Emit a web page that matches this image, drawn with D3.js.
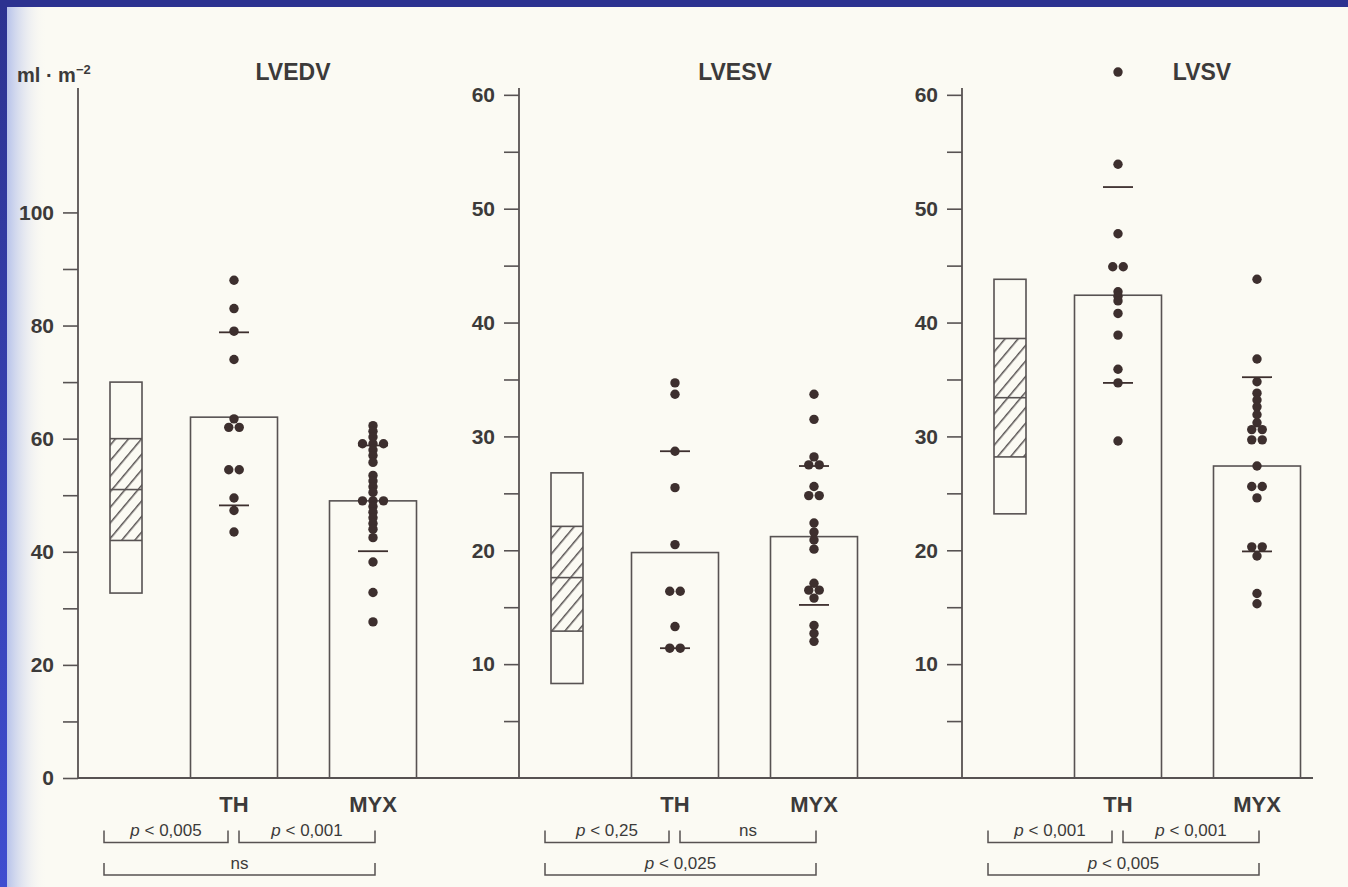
<!DOCTYPE html>
<html>
<head>
<meta charset="utf-8">
<script src="https://cdn.jsdelivr.net/npm/d3@7"></script>
<style>
  html, body { margin: 0; padding: 0; background: #fbfaf3; overflow: hidden; }
  svg { display: block; font-family: "Liberation Sans", Arial, sans-serif; }
</style>
</head>
<body>
<script>
// ---- data (ml · m^-2) ----
const panels = ["LVEDV", "LVESV", "LVSV"];
const groups = ["N", "TH", "MYX"];
const axisMax = [122, 60.6, 60.6];
const labelTicks = [[0, 20, 40, 60, 80, 100], [10, 20, 30, 40, 50, 60], [10, 20, 30, 40, 50, 60]];
const minorStep = [10, 5, 5];
const minorStart = [0, 5, 5];
const minorEnd = [100, 60, 60];

// normal range box: min, hatched low, median, hatched high, max
const normalRange = [
  [32.7, 42.0, 51.0, 60.0, 70.0],
  [8.3, 12.9, 17.6, 22.1, 26.8],
  [23.2, 28.2, 33.4, 38.6, 43.8]
];
const thMean = [63.8, 19.8, 42.4];
const myxMean = [49.0, 21.2, 27.4];
const thSD = [[48.2, 78.8], [11.4, 28.7], [34.7, 51.9]];
const myxSD = [[40.1, 58.8], [15.2, 27.4], [19.9, 35.2]];

const thValues = [
  [88, 83, 79, 74, 63.5, 62, 62, 54.5, 54.5, 49.5, 47.3, 43.5],
  [34.7, 33.7, 28.7, 25.5, 20.5, 16.4, 16.4, 13.3, 11.4, 11.4],
  [62, 53.9, 47.8, 44.9, 44.9, 42.7, 42.3, 41.9, 40.8, 38.9, 35.9, 34.7, 29.6]
];
const myxValues = [
  [62.3, 61.3, 60.3, 59.1, 59.1, 59.1, 58, 57, 55.8, 53.5, 52.5, 51.5, 50.5,
   49, 49, 49, 48, 47, 46, 45, 44, 42.5, 38.2, 32.8, 27.6],
  [33.7, 31.5, 28.2, 27.5, 27.5, 25.6, 24.8, 24.8, 22.4, 21.6, 20.9, 20.1,
   17.1, 16.5, 16.5, 15.8, 13.4, 12.7, 12.0],
  [43.8, 36.8, 34.8, 33.8, 33.2, 32.6, 31.9, 31.2, 30.6, 30.6, 29.7, 29.7,
   27.4, 25.6, 25.6, 24.6, 20.3, 20.3, 19.5, 16.2, 15.3]
];
const pLabels = [
  ["p < 0,005", "p < 0,001", "ns"],
  ["p < 0,25", "ns", "p < 0,025"],
  ["p < 0,001", "p < 0,001", "p < 0,005"]
];

// ---- layout ----
const W = 1348, H = 887;
const panelX = [78, 519, 962];
const titleDx = [215, 216, 240];
const baseY = 778, topY = 88;
const lineColor = "#575252";
const textColor = "#3c3a3a";
const dotColor = "#3d2f2e";
const dotR = 4.7;

const svg = d3.select("body").append("svg")
  .attr("width", W)
  .attr("height", H);

const defs = svg.append("defs");
const shade = defs.append("linearGradient").attr("id", "shade");
shade.append("stop").attr("offset", 0).attr("stop-color", "#b4c0ea").attr("stop-opacity", 0.95);
shade.append("stop").attr("offset", 1).attr("stop-color", "#fbfaf3").attr("stop-opacity", 0);
const edge = defs.append("linearGradient").attr("id", "edge")
  .attr("x1", 0).attr("y1", 0).attr("x2", 0).attr("y2", 1);
edge.append("stop").attr("offset", 0).attr("stop-color", "#2c3290");
edge.append("stop").attr("offset", 1).attr("stop-color", "#3f4dd0");

const hatch = defs.append("pattern")
  .attr("id", "hatch")
  .attr("patternUnits", "userSpaceOnUse")
  .attr("width", 10).attr("height", 10)
  .attr("patternTransform", "rotate(40)");
hatch.append("line")
  .attr("x1", 0).attr("y1", 0).attr("x2", 0).attr("y2", 10)
  .attr("stroke", lineColor).attr("stroke-width", 3);

// paper + scan edges
svg.append("rect").attr("width", W).attr("height", H).attr("fill", "#fbfaf3");
svg.append("rect").attr("x", 7).attr("y", 0).attr("width", 40).attr("height", H).attr("fill", "url(#shade)");
svg.append("rect").attr("x", 0).attr("y", 0).attr("width", 7).attr("height", H).attr("fill", "url(#edge)");
svg.append("rect").attr("x", 0).attr("y", 0).attr("width", W).attr("height", 7).attr("fill", "#2c3290");

// unit label
const unit = svg.append("text")
  .attr("x", 17).attr("y", 82)
  .attr("fill", textColor)
  .attr("font-size", 20)
  .attr("font-weight", "bold");
unit.append("tspan").text("ml · m");
unit.append("tspan").attr("dy", -8).attr("font-size", 13).text("−2");

// continuous baseline
svg.append("line")
  .attr("x1", panelX[0]).attr("x2", panelX[2] + 351)
  .attr("y1", baseY).attr("y2", baseY)
  .attr("stroke", lineColor).attr("stroke-width", 1.8);

// spread identical values side by side
const spread = (values) => {
  const counts = d3.rollup(values, v => v.length, d => d);
  const seen = new Map();
  return values.map(v => {
    const n = counts.get(v);
    const i = seen.get(v) || 0;
    seen.set(v, i + 1);
    return { v, k: i - (n - 1) / 2 };
  });
};

panels.forEach((name, p) => {
  const g = svg.append("g").attr("transform", `translate(${panelX[p]},0)`);

  const y = d3.scaleLinear().domain([0, axisMax[p]]).range([baseY, topY]);
  const x = d3.scaleOrdinal().domain(groups).range([48, 156, 295]);

  // y axis
  const ticks = d3.range(minorStart[p], minorEnd[p] + 0.1, minorStep[p]);
  const yAxis = d3.axisLeft(y)
    .tickValues(ticks)
    .tickSize(15)
    .tickPadding(9)
    .tickFormat(d => labelTicks[p].includes(d) ? d : "");
  const ax = g.append("g").call(yAxis);
  ax.select(".domain").remove();
  ax.selectAll(".tick line").attr("stroke", lineColor).attr("stroke-width", 1.6);
  ax.selectAll(".tick text")
    .attr("fill", textColor)
    .attr("font-size", 21)
    .attr("font-weight", "bold")
    .attr("font-family", "'Liberation Sans', Arial, sans-serif");
  g.append("line")
    .attr("x1", 0).attr("x2", 0)
    .attr("y1", y(0)).attr("y2", topY)
    .attr("stroke", lineColor).attr("stroke-width", 1.8);

  // title
  g.append("text")
    .attr("x", titleDx[p]).attr("y", 80)
    .attr("text-anchor", "middle")
    .attr("fill", textColor)
    .attr("font-size", 23)
    .attr("font-weight", "bold")
    .text(name);

  // normal range box
  const [mn, lo, md, hi, mx] = normalRange[p];
  const bw = 32;
  const bx = x("N") - bw / 2;
  g.append("rect")
    .attr("x", bx).attr("y", y(hi))
    .attr("width", bw).attr("height", y(lo) - y(hi))
    .attr("fill", "url(#hatch)");
  g.append("rect")
    .attr("x", bx).attr("y", y(mx))
    .attr("width", bw).attr("height", y(mn) - y(mx))
    .attr("fill", "none")
    .attr("stroke", lineColor).attr("stroke-width", 1.6);
  g.selectAll(".nline")
    .data([lo, md, hi])
    .enter().append("line")
    .attr("x1", bx).attr("x2", bx + bw)
    .attr("y1", d => y(d)).attr("y2", d => y(d))
    .attr("stroke", lineColor).attr("stroke-width", 1.6);

  // mean bars
  const barW = 87;
  const bars = [{ grp: "TH", v: thMean[p] }, { grp: "MYX", v: myxMean[p] }];
  g.selectAll(".bar")
    .data(bars)
    .enter().append("rect")
    .attr("x", d => x(d.grp) - barW / 2)
    .attr("y", d => y(d.v))
    .attr("width", barW)
    .attr("height", d => y(0) - y(d.v))
    .attr("fill", "none")
    .attr("stroke", lineColor).attr("stroke-width", 1.6);

  // individual values
  const dots = [
    ...spread(thValues[p]).map(d => ({ ...d, grp: "TH" })),
    ...spread(myxValues[p]).map(d => ({ ...d, grp: "MYX" }))
  ];
  g.selectAll(".dot")
    .data(dots)
    .enter().append("circle")
    .attr("cx", d => x(d.grp) + d.k * 10.5)
    .attr("cy", d => y(d.v))
    .attr("r", dotR)
    .attr("fill", dotColor);

  // ± SD marks
  const sds = [
    ...thSD[p].map(v => ({ grp: "TH", v })),
    ...myxSD[p].map(v => ({ grp: "MYX", v }))
  ];
  g.selectAll(".sd")
    .data(sds)
    .enter().append("line")
    .attr("x1", d => x(d.grp) - 15).attr("x2", d => x(d.grp) + 15)
    .attr("y1", d => y(d.v)).attr("y2", d => y(d.v))
    .attr("stroke", dotColor).attr("stroke-width", 1.8);

  // group labels
  g.selectAll(".grp")
    .data(["TH", "MYX"])
    .enter().append("text")
    .attr("x", d => x(d))
    .attr("y", 812)
    .attr("text-anchor", "middle")
    .attr("fill", textColor)
    .attr("font-size", 22)
    .attr("font-weight", "bold")
    .text(d => d);

  // significance brackets
  const left = x("N") - 22, right = x("MYX") + 2;
  const brackets = [
    { x1: left, x2: x("TH") - 6, yb: 842.5, h: 12, label: pLabels[p][0] },
    { x1: x("TH") + 5, x2: right, yb: 842.5, h: 12, label: pLabels[p][1] },
    { x1: left, x2: right, yb: 875, h: 12, label: pLabels[p][2] }
  ];
  brackets.forEach(b => {
    g.append("path")
      .attr("d", `M${b.x1},${b.yb - b.h}V${b.yb}H${b.x2}V${b.yb - b.h}`)
      .attr("fill", "none")
      .attr("stroke", lineColor).attr("stroke-width", 1.5);
    const t = g.append("text")
      .attr("x", (b.x1 + b.x2) / 2)
      .attr("y", b.yb - 6.5)
      .attr("text-anchor", "middle")
      .attr("fill", textColor)
      .attr("font-size", 17);
    if (b.label.startsWith("p")) {
      t.append("tspan").attr("font-style", "italic").text("p");
      t.append("tspan").text(b.label.slice(1));
    } else {
      t.text(b.label);
    }
  });
});
</script>
</body>
</html>
